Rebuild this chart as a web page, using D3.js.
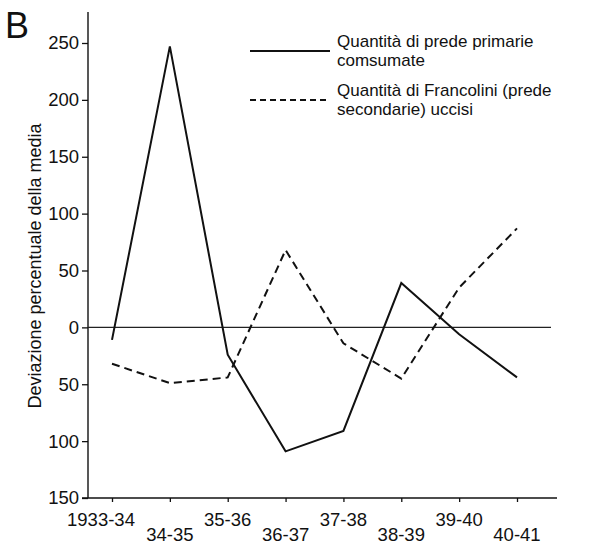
<!DOCTYPE html>
<html>
<head>
<meta charset="utf-8">
<script src="https://cdn.jsdelivr.net/npm/d3@7"></script>
<style>
  html, body { margin: 0; padding: 0; background: #fff; }
  svg { display: block; font-family: "Liberation Sans", Arial, sans-serif; }
</style>
</head>
<body>
<svg id="chart" width="589" height="551"></svg>
<script>
// ---- data ----
const categories = ["1933-34", "34-35", "35-36", "36-37", "37-38", "38-39", "39-40", "40-41"];
const primarie   = [-11, 247, -24, -109, -91, 39, -6, -44];
const francolini = [-32, -49, -44, 68, -14, -45, 35, 87];
const yTickValues = [250, 200, 150, 100, 50, 0, -50, -100, -150];
const yTickLabels = ["250", "200", "150", "100", "50", "0", "50", "100", "150"];
const legendLabels = [
  ["Quantità di prede primarie", "comsumate"],
  ["Quantità di Francolini (prede", "secondarie) uccisi"]
];

const svg = d3.select("#chart");

const x = d3.scalePoint().domain(categories).range([112, 517]);
const y = d3.scaleLinear().domain([-150, 250]).range([498, 43]);
const axisX = 88;

// Title letter
svg.append("text").attr("x", 5).attr("y", 38)
  .attr("font-size", 36).attr("fill", "#111").text("B");

// Y axis
const yAxis = d3.axisLeft(y).tickValues(yTickValues)
  .tickFormat((d, i) => yTickLabels[i]).tickSize(6).tickPadding(3);
const gy = svg.append("g").attr("transform", `translate(${axisX},0)`).call(yAxis);
gy.select(".domain").remove();
gy.selectAll("text").attr("font-size", 18.5).attr("fill", "#111")
  .attr("font-family", "Liberation Sans, Arial, sans-serif");
gy.selectAll("line").attr("stroke", "#111").attr("stroke-width", 1.3);
svg.append("line").attr("x1", axisX).attr("x2", axisX)
  .attr("y1", 12).attr("y2", y(-150))
  .attr("stroke", "#111").attr("stroke-width", 1.4);

// X axis
const xAxis = d3.axisBottom(x).tickSize(4).tickFormat("");
const gx = svg.append("g").attr("transform", `translate(0,${y(-150)})`).call(xAxis);
gx.select(".domain").remove();
gx.selectAll("line").attr("stroke", "#111").attr("stroke-width", 1.3);
svg.append("line").attr("x1", axisX - 6).attr("x2", 557)
  .attr("y1", y(-150)).attr("y2", y(-150))
  .attr("stroke", "#111").attr("stroke-width", 1.5);

// X tick labels, alternating heights
svg.append("g").selectAll("text").data(categories).join("text")
  .attr("x", (d, i) => x(d) + (i === 0 ? -11 : 0))
  .attr("y", (d, i) => i % 2 === 0 ? 526 : 541)
  .attr("text-anchor", "middle")
  .attr("font-size", 18.5).attr("fill", "#111")
  .text(d => d);

// Y axis label
svg.append("text")
  .attr("transform", `translate(41,266) rotate(-90)`)
  .attr("text-anchor", "middle")
  .attr("font-size", 18).attr("fill", "#111")
  .text("Deviazione percentuale della media");

// Zero line
svg.append("line").attr("x1", axisX).attr("x2", 551)
  .attr("y1", y(0)).attr("y2", y(0))
  .attr("stroke", "#222").attr("stroke-width", 1.1);

// Series lines
const line = d3.line().x((d, i) => x(categories[i])).y(d => y(d));
svg.append("path").datum(primarie)
  .attr("d", line).attr("fill", "none")
  .attr("stroke", "#111").attr("stroke-width", 2)
  .attr("stroke-linejoin", "miter");
svg.append("path").datum(francolini)
  .attr("d", line).attr("fill", "none")
  .attr("stroke", "#111").attr("stroke-width", 2)
  .attr("stroke-dasharray", "8,5");

// Legend
const legend = svg.append("g");
const legendY = [51, 100];
const dashes = [null, "6,4"];
legendLabels.forEach((lines, i) => {
  legend.append("line")
    .attr("x1", 250).attr("x2", 330)
    .attr("y1", legendY[i]).attr("y2", legendY[i])
    .attr("stroke", "#111").attr("stroke-width", 2)
    .attr("stroke-dasharray", dashes[i]);
  lines.forEach((t, j) => {
    legend.append("text")
      .attr("x", 337).attr("y", legendY[i] - 4 + j * 19)
      .attr("font-size", 17).attr("fill", "#111")
      .text(t);
  });
});
</script>
</body>
</html>
